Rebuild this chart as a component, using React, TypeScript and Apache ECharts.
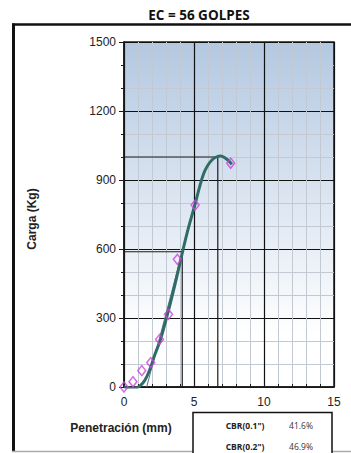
import React, { useEffect, useRef } from "react";
import * as echarts from "echarts";

// Measured points (penetration mm, load kg)
const penetration = [0, 0.64, 1.27, 1.91, 2.54, 3.18, 3.81, 5.08, 7.62];
const load = [0, 23, 71, 106, 207, 316, 555, 791, 973];

// Fitted curve
const curvePen = [0, 0.5, 0.9, 1.2, 1.5, 1.87, 2.2, 2.6, 3.1, 3.5, 4.0, 4.5, 5.1, 5.4, 5.7, 6.0, 6.3, 6.6, 6.9, 7.2, 7.5, 7.7];
const curveLoad = [0, -5, -3, 8, 30, 80, 140, 205, 315, 410, 540, 668, 800, 870, 929, 965, 988, 1000, 1004, 997, 982, 968];

// CBR correction construction
const tangentOrigin = 1.62;
const cbrPen = [4.16, 6.7];
const cbrLoad = [588, 1000];
const cbrLabels = ['CBR(0.1")', 'CBR(0.2")'];
const cbrValues = ["41.6%", "46.9%"];

// Axes
const xTicks = [0, 15, 5];
const yTicks = [0, 1500, 300];

const title = "EC = 56 GOLPES";
const yName = "Carga (Kg)";
const xName = "Penetración (mm)";

export default function App() {
  const ref = useRef<HTMLDivElement>(null);
  useEffect(() => {
    if (!ref.current) return;
    const chart = echarts.init(ref.current, null, { renderer: "svg" });
    const font = "Liberation Sans, Arial, sans-serif";
    const guide = (i: number) => ({
      type: "line",
      data: [
        [0, cbrLoad[i]],
        [cbrPen[i], cbrLoad[i]],
        [cbrPen[i], 0],
      ],
      showSymbol: false,
      lineStyle: { color: "#1a1a1a", width: 1.2 },
      z: 2,
      silent: true,
    });
    chart.setOption({
      animation: false,
      grid: {
        left: 124,
        top: 42,
        right: 17,
        bottom: 66,
        show: true,
        borderColor: "#1a1a1a",
        borderWidth: 1.5,
        backgroundColor: new echarts.graphic.LinearGradient(0, 0, 0, 1, [
          { offset: 0, color: "#b3c8e1" },
          { offset: 0.85, color: "#ffffff" },
          { offset: 1, color: "#ffffff" },
        ]),
      },
      xAxis: {
        type: "value",
        min: xTicks[0],
        max: xTicks[1],
        interval: xTicks[2],
        axisLine: { show: true, lineStyle: { color: "#1a1a1a", width: 1.5 } },
        axisTick: { show: true, inside: true, length: 4, lineStyle: { color: "#1a1a1a" } },
        minorTick: { show: true, splitNumber: 5, length: 3, lineStyle: { color: "#1a1a1a" } },
        splitLine: { show: true, lineStyle: { color: "#111", width: 1.2 } },
        minorSplitLine: { show: true, lineStyle: { color: "#c2c9d2", width: 1 } },
        axisLabel: { fontFamily: font, fontSize: 12, color: "#222", margin: 9 },
      },
      yAxis: {
        type: "value",
        min: yTicks[0],
        max: yTicks[1],
        interval: yTicks[2],
        axisLine: { show: true, lineStyle: { color: "#1a1a1a", width: 1.5 } },
        axisTick: { show: true, length: 5, lineStyle: { color: "#1a1a1a" } },
        minorTick: { show: true, splitNumber: 3, length: 3, lineStyle: { color: "#1a1a1a" } },
        splitLine: { show: true, lineStyle: { color: "#111", width: 1.2 } },
        minorSplitLine: { show: true, lineStyle: { color: "#c2c9d2", width: 1 } },
        axisLabel: {
          fontFamily: font,
          fontSize: 12,
          color: "#222",
          margin: 8,
          formatter: (v: number) => String(v),
        },
      },
      series: [
        guide(0),
        guide(1),
        {
          type: "line",
          data: [
            [tangentOrigin, 0],
            [cbrPen[0], cbrLoad[0]],
          ],
          showSymbol: false,
          lineStyle: { color: "#56708a", width: 1 },
          z: 3,
          silent: true,
        },
        {
          type: "line",
          data: curvePen.map((p, i) => [p, curveLoad[i]]),
          smooth: 0.4,
          showSymbol: false,
          lineStyle: { color: "#2f6b67", width: 3 },
          z: 4,
          silent: true,
        },
        {
          type: "scatter",
          data: penetration.map((p, i) => [p, load[i]]),
          symbol: "diamond",
          symbolSize: [8, 10],
          itemStyle: { color: "rgba(255,255,255,0)", borderColor: "#cc44dd", borderWidth: 1.5 },
          z: 5,
        },
      ],
      graphic: [
        {
          type: "text",
          x: 199,
          y: 15,
          style: {
            text: title,
            fontFamily: "Open Sans, Noto Sans, sans-serif",
            fontWeight: "bold",
            fontSize: 13.5,
            fill: "#111",
            align: "center",
            verticalAlign: "middle",
          },
        },
        { type: "line", shape: { x1: 12, y1: 24.5, x2: 360, y2: 24.5 }, style: { stroke: "#111", lineWidth: 2.5 } },
        { type: "line", shape: { x1: 13.5, y1: 23.5, x2: 13.5, y2: 452 }, style: { stroke: "#111", lineWidth: 3 } },
        { type: "line", shape: { x1: 12, y1: 451.5, x2: 360, y2: 451.5 }, style: { stroke: "#aaa", lineWidth: 1.5 } },
        {
          type: "text",
          x: 32,
          y: 219,
          rotation: Math.PI / 2,
          style: {
            text: yName,
            fontFamily: font,
            fontWeight: "bold",
            fontSize: 12,
            fill: "#222",
            align: "center",
            verticalAlign: "middle",
          },
        },
        {
          type: "text",
          x: 121,
          y: 428,
          style: {
            text: xName,
            fontFamily: font,
            fontWeight: "bold",
            fontSize: 12,
            fill: "#222",
            align: "center",
            verticalAlign: "middle",
          },
        },
        {
          type: "rect",
          shape: { x: 193, y: 412.5, width: 139, height: 60 },
          style: { fill: "#fff", stroke: "#111", lineWidth: 1.5 },
        },
        ...cbrLabels.flatMap((lab, i) => [
          {
            type: "text",
            x: 245,
            y: 425 + i * 21,
            style: {
              text: lab,
              fontFamily: "Open Sans, Noto Sans, sans-serif",
              fontWeight: "bold",
              fontSize: 8.5,
              fill: "#222",
              align: "center",
              verticalAlign: "middle",
            },
          },
          {
            type: "text",
            x: 301,
            y: 425 + i * 21,
            style: {
              text: cbrValues[i],
              fontFamily: "Open Sans, Noto Sans, sans-serif",
              fontSize: 8.5,
              fill: "#333",
              align: "center",
              verticalAlign: "middle",
            },
          },
        ]),
      ],
    });
    return () => chart.dispose();
  }, []);
  return (
    <div
      ref={ref}
      style={{ position: "fixed", left: 0, top: 0, width: 351, height: 453, background: "#fff" }}
    />
  );
}
